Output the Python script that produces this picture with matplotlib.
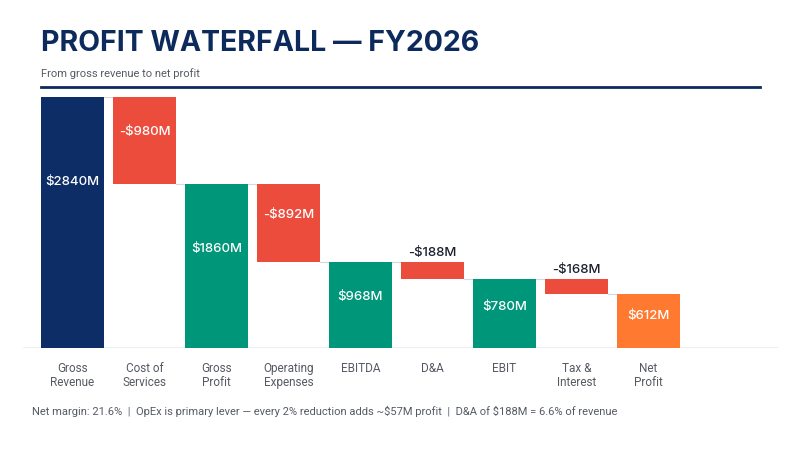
import matplotlib
matplotlib.use('Agg')
import matplotlib.pyplot as plt
from matplotlib.lines import Line2D

plt.rcParams['text.parse_math'] = False

# dados do waterfall
categories = ["Gross\nRevenue", "Cost of\nServices", "Gross\nProfit", "Operating\nExpenses",
              "EBITDA", "D&A", "EBIT", "Tax &\nInterest", "Net\nProfit"]
values = [2840, -980, 1860, -892, 968, -188, 780, -168, 612]
kinds = ["start", "delta", "total", "delta", "total", "delta", "total", "delta", "end"]

title = "PROFIT WATERFALL \u2014 FY2026"
subtitle = "From gross revenue to net profit"
footnote = ("Net margin: 21.6%  |  OpEx is primary lever \u2014 every 2% reduction adds ~$57M profit"
            "  |  D&A of $188M = 6.6% of revenue")

colors = {"start": "#0c2d66", "delta": "#ec4c3c", "total": "#00967a", "end": "#ff7a30"}

fig = plt.figure(figsize=(8, 4.5), dpi=100)
ax = fig.add_axes([23 / 800, 1 - 348 / 450, 755 / 800, 251 / 450])

bottoms = []
heights = []
running = 0
for v, k in zip(values, kinds):
    if k == "delta":
        bottoms.append(running + v)
        heights.append(-v)
        running = running + v
    else:
        bottoms.append(0)
        heights.append(v)
        running = v

xs = list(range(len(values)))
w = 0.875
ax.bar(xs, heights, bottom=bottoms, width=w,
       color=[colors[k] for k in kinds], zorder=3)

# linhas de conexao entre as barras
running = 0
for i, (v, k) in enumerate(zip(values, kinds)):
    running = running + v if k == "delta" else v
    if i < len(values) - 1:
        ax.plot([i + w / 2, i + 1 - w / 2], [running, running],
                color="#d5d8de", lw=0.8, zorder=2)

# rotulos de valor
for i, (v, k) in enumerate(zip(values, kinds)):
    txt = ("-$%dM" % -v) if v < 0 else ("$%dM" % v)
    b, h = bottoms[i], heights[i]
    if h < 300:
        ax.text(i, b + h + 40, txt, ha="center", va="bottom", fontsize=9.5,
                color="#1b1f2e", family=["Inter", "DejaVu Sans"], fontweight="medium", zorder=4)
    else:
        frac = 0.66 if k == "start" else 0.6
        ax.text(i, b + h * frac, txt, ha="center", va="center", fontsize=9.5,
                color="white", family=["Inter", "DejaVu Sans"], fontweight="medium", zorder=4)

ax.set_xlim(-0.6875, 9.80)
ax.set_ylim(0, 2840)
ax.axhline(0, color="#e9edf3", lw=1.2, zorder=1)
for s in ax.spines.values():
    s.set_visible(False)
ax.set_yticks([])
ax.set_xticks(xs)
ax.set_xticklabels(categories, fontsize=8.5, color="#555a63",
                   family=["Roboto", "DejaVu Sans"], linespacing=1.15)
ax.tick_params(axis="x", length=0, pad=10)

fig.text(41 / 800, 1 - 51 / 450, title, fontsize=20.5, fontweight="bold",
         color="#0c2a5c", family=["Inter", "DejaVu Sans"], va="baseline")
fig.text(41 / 800, 1 - 74 / 450, subtitle, fontsize=8, color="#555a63",
         family=["Roboto", "DejaVu Sans"], va="center")
fig.add_artist(Line2D([41 / 800, 760 / 800], [1 - 87 / 450, 1 - 87 / 450],
                      color="#0c2a5c", lw=2))
fig.text(32 / 800, 1 - 411 / 450, footnote, fontsize=8.0, color="#555a63",
         family=["Roboto", "DejaVu Sans"], va="center")

fig.savefig("out.png", dpi=100, facecolor="white")
